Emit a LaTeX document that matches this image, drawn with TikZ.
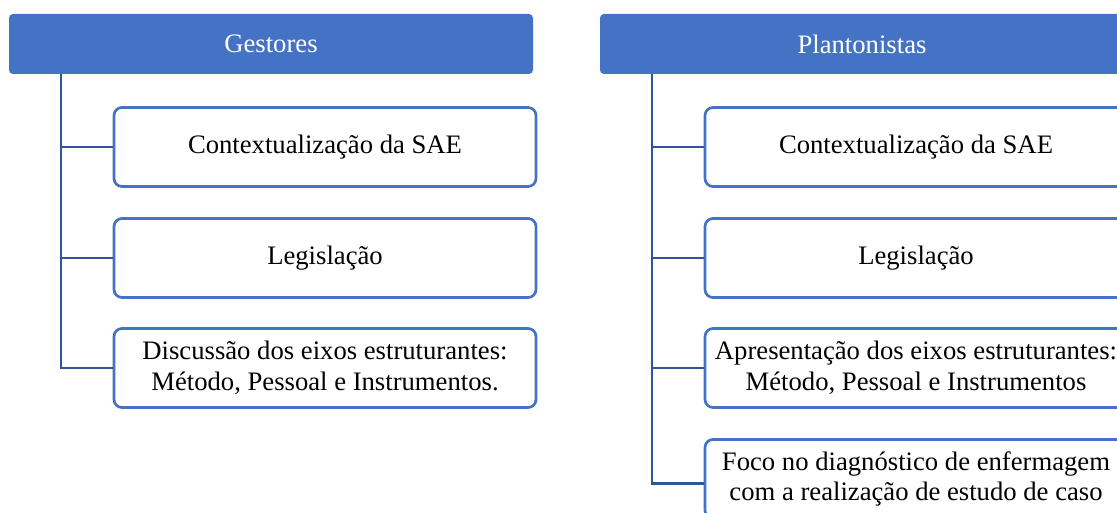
\documentclass[tikz,border=0pt]{standalone}
\usepackage{fontspec}
\setmainfont{Liberation Serif}
\usepackage{amsmath}

\definecolor{hdblue}{HTML}{4472C4}
\definecolor{lnblue}{HTML}{2F5597}

\tikzset{
    header/.style={rectangle, rounded corners=3pt, fill=hdblue, text=white,
        minimum width=393pt, minimum height=45pt, inner sep=0pt,
        font=\fontsize{20}{23}\selectfont},
    item/.style={rectangle, rounded corners=6pt, draw=hdblue, line width=2pt, fill=white,
        minimum width=316.5pt, minimum height=59.25pt, inner sep=0pt, align=center,
        font=\fontsize{20}{23}\selectfont},
    link/.style={draw=lnblue, line width=2pt}
}

\begin{document}
\begin{tikzpicture}[x=0.75pt, y=-0.75pt]

    % Frame (pixels of the reference)
    \def\w{1117}
    \def\h{513}
    \def\xga{271}   % x header Gestores
    \def\xpa{862}   % x header Plantonistas
    \def\xgb{325}   % x items Gestores
    \def\xpb{916}   % x items Plantonistas
    \def\xgt{61}    % x trunk Gestores
    \def\xpt{652}   % x trunk Plantonistas

    \useasboundingbox (0,0) rectangle (\w,\h);
    \clip (0,0) rectangle (\w,\h);

    % Headers
    \node[header] (gh) at (\xga, 44) {Gestores};
    \node[header] (ph) at (\xpa, 44) {Plantonistas};

    % Trunks
    \coordinate (gt) at (\xgt, 74);
    \coordinate (pt) at (\xpt, 74);

    % Items, Gestores
    \node[item] (g1) at (\xgb, 147) {Contextualização da SAE};
    \node[item] (g2) at (\xgb, 258) {Legislação};
    \node[item] (g3) at (\xgb, 368) {Discussão dos eixos estruturantes:\\Método, Pessoal e Instrumentos.};
    % Items, Plantonistas
    \node[item] (p1) at (\xpb, 147) {Contextualização da SAE};
    \node[item] (p2) at (\xpb, 258) {Legislação};
    \node[item] (p3) at (\xpb, 368) {Apresentação dos eixos estruturantes:\\Método, Pessoal e Instrumentos};
    \node[item] (p4) at (\xpb, 479) {Foco no diagnóstico de enfermagem\\com a realização de estudo de caso};

    % Links
    \foreach \n in {g1, g2, g3}{
        \draw[link] (gt) |- (\n.west);
    }
    \foreach \n in {p1, p2, p3}{
        \draw[link] (pt) |- (\n.west);
    }
    \draw[link] (pt) |- ([yshift=-3.5pt]p4.west);

\end{tikzpicture}
\end{document}
